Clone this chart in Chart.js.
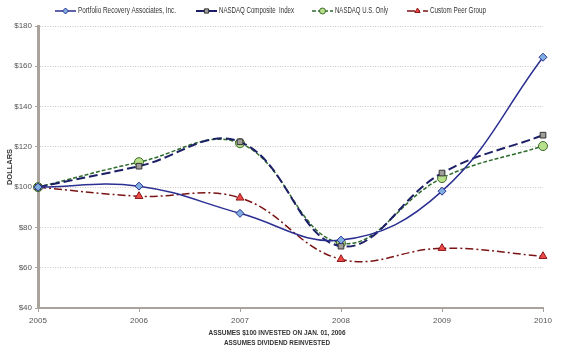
<!DOCTYPE html>
<html>
<head>
<meta charset="utf-8">
<script src="https://cdn.jsdelivr.net/npm/chart.js@4"></script>
<style>
  html, body { margin: 0; padding: 0; background: #fff; }
  #wrap { width: 567px; height: 351px; }
</style>
</head>
<body>
<div id="wrap"><canvas id="perfChart" width="567" height="351"></canvas></div>
<script>
const years = ["2005", "2006", "2007", "2008", "2009", "2010"];
const portfolio = [100, 100.5, 87, 73.7, 98, 164.5];
const nasdaqComposite = [100, 110.4, 122.5, 70.7, 107, 125.8];
const nasdaqUS = [100, 112.4, 121.8, 72.2, 104.5, 120.4];
const peerGroup = [100, 95.5, 94.7, 64.2, 69.7, 65.7];
const yTicks = [40, 60, 80, 100, 120, 140, 160, 180];

const fontFam = "'Liberation Sans', Arial, sans-serif";

// legend + axis titles drawn by hand so they sit where the original has them
const extras = {
  id: "extras",
  afterDraw(chart) {
    const c = chart.ctx;
    const items = [
      { x: 55, w: 98, text: "Portfolio Recovery Associates, Inc." },
      { x: 196, w: 75, text: "NASDAQ Composite  Index" },
      { x: 312, w: 53, text: "NASDAQ U.S. Only" },
      { x: 407, w: 56, text: "Custom Peer Group" }
    ];
    c.save();
    c.font = "8.5px " + fontFam;
    c.textBaseline = "middle";
    items.forEach((it, i) => {
      const ds = chart.data.datasets[i];
      const y = 11;
      c.strokeStyle = ds.borderColor;
      c.lineWidth = ds.borderWidth;
      c.setLineDash(ds.borderDash || []);
      c.beginPath();
      c.moveTo(it.x, y);
      c.lineTo(it.x + 21, y);
      c.stroke();
      c.setLineDash([]);
      c.fillStyle = ds.pointBackgroundColor;
      c.strokeStyle = ds.pointBorderColor;
      c.lineWidth = 1;
      Chart.helpers.drawPoint(c, { pointStyle: ds.pointStyle, radius: 3, borderWidth: 1 }, it.x + 10.5, y);
      c.fillStyle = "#333";
      c.textAlign = "left";
      c.fillText(it.text, it.x + 23, y, it.w);
    });

    c.fillStyle = "#333";
    c.font = "bold 7.5px " + fontFam;
    c.textAlign = "center";
    c.fillText("ASSUMES $100 INVESTED ON JAN. 01, 2006", 277, 333, 137);
    c.fillText("ASSUMES DIVIDEND REINVESTED", 277, 343, 106);

    c.translate(10, 167);
    c.rotate(-Math.PI / 2);
    c.fillText("DOLLARS", 0, 0);
    c.restore();
  }
};

new Chart(document.getElementById("perfChart"), {
  type: "line",
  data: {
    labels: years,
    datasets: [
      {
        label: "Portfolio Recovery Associates, Inc.",
        data: portfolio,
        borderColor: "#2b2f91",
        borderWidth: 1.5,
        pointStyle: "rectRot",
        pointRadius: 4,
        pointBackgroundColor: "#7eaee0",
        pointBorderColor: "#2b2f91",
        pointBorderWidth: 1,
        tension: 0.4
      },
      {
        label: "NASDAQ Composite Index",
        data: nasdaqComposite,
        borderColor: "#1c1f66",
        borderWidth: 2,
        borderDash: [9, 4],
        pointStyle: "rect",
        pointRadius: 4,
        pointBackgroundColor: "#a09e9a",
        pointBorderColor: "#333",
        pointBorderWidth: 1,
        tension: 0.4
      },
      {
        label: "NASDAQ U.S. Only",
        data: nasdaqUS,
        borderColor: "#2e6b2e",
        borderWidth: 1.5,
        borderDash: [4, 2],
        pointStyle: "circle",
        pointRadius: 4.5,
        pointBackgroundColor: "#b8e08c",
        pointBorderColor: "#3d6b2a",
        pointBorderWidth: 1,
        tension: 0.4
      },
      {
        label: "Custom Peer Group",
        data: peerGroup,
        borderColor: "#7a1414",
        borderWidth: 1.5,
        borderDash: [8, 3, 2, 3],
        pointStyle: "triangle",
        pointRadius: 4.5,
        pointBackgroundColor: "#f04848",
        pointBorderColor: "#8a1a1a",
        pointBorderWidth: 1,
        tension: 0.4
      }
    ]
  },
  options: {
    responsive: false,
    animation: false,
    layout: { padding: { top: 26, right: 24, left: 0, bottom: 0 } },
    plugins: {
      legend: { display: false },
      tooltip: { enabled: false }
    },
    scales: {
      x: {
        offset: false,
        afterFit: (s) => { s.height = 43; },
        grid: {
          display: true,
          drawOnChartArea: false,
          drawTicks: true,
          tickLength: 4,
          color: "#aaa39b"
        },
        border: { color: "#aaa39b", width: 2 },
        ticks: {
          color: "#555",
          font: { size: 8, family: fontFam },
          padding: 4,
          maxRotation: 0
        }
      },
      y: {
        min: 40,
        max: 180,
        afterFit: (s) => { s.width = 38; },
        afterBuildTicks: (s) => { s.ticks = yTicks.map(v => ({ value: v })); },
        grid: {
          color: "#cbc6c0",
          tickLength: 3,
          tickColor: "#aaa39b",
          tickBorderDash: []
        },
        border: { color: "#aaa39b", width: 3, dash: [1, 1.5] },
        ticks: {
          color: "#555",
          font: { size: 8, family: fontFam },
          padding: 3,
          callback: (v) => "$" + v
        }
      }
    }
  },
  plugins: [extras]
});
</script>
</body>
</html>
